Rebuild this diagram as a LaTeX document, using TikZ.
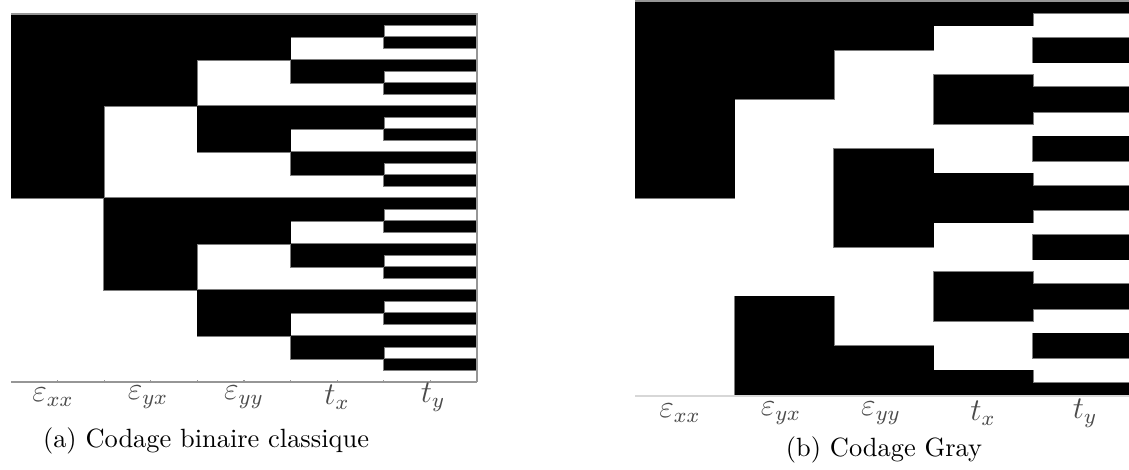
\documentclass[tikz,border=0pt]{standalone}
\usepackage{tikz}
\usetikzlibrary{positioning}
\definecolor{edgegray}{RGB}{125,125,125}
\definecolor{axisgray}{RGB}{150,150,150}
\definecolor{faintgray}{RGB}{215,215,215}
\definecolor{labelgray}{RGB}{75,75,75}

\begin{document}
\begin{tikzpicture}[x=0.3788pt, y=-0.3788pt,
		% Styles (edges go first, fills on top so black runs merge)
		bitedge/.style={draw=edgegray, line width=0.6pt},
		bitfill/.style={fill=black},
		frame/.style={draw=axisgray, line width=0.6pt},
		varlabel/.style={text=labelgray, font=\fontsize{11.5}{13}\selectfont, inner sep=0pt},
		caption/.style={font=\normalsize, inner sep=0pt}
	]
	\useasboundingbox (0,0) rectangle (1129,470);

	% (a) Classic binary code: column c holds runs of 2^(4-c) rows
	\begin{scope}
		\clip (11,14) rectangle (477,382);
		\foreach \pass in {edge,fill}
		\foreach \c in {0,...,4} {
			\pgfmathtruncatemacro{\len}{2^(4-\c)}
			\pgfmathtruncatemacro{\nrun}{16/\len-1}
			\foreach \k in {0,...,\nrun} {
				\pgfmathsetmacro{\ya}{14+2*\k*\len*11.5}
				\pgfmathsetmacro{\yb}{\ya+\len*11.5}
				\path[bit\pass] (11+\c*93.2,\ya) rectangle (11+\c*93.2+93.2,\yb);
			}
		}
	\end{scope}
	\draw[frame] (11,14) -- (477,14) -- (477,382);
	\draw[frame] (11,382) -- (477,382);
	\foreach \t in {1,...,9}
		\draw[frame, line width=0.4pt] (11+\t*46.6,382) -- ++(0,-2);

	% (b) Gray code: black runs start at (4k-1)*2^(4-c)
	\begin{scope}
		\clip (635,1) rectangle (1129,395);
		\foreach \pass in {edge,fill}
		\foreach \c in {0,...,4} {
			\pgfmathtruncatemacro{\len}{2^(4-\c)}
			\pgfmathtruncatemacro{\nrun}{8/\len}
			\foreach \k in {0,...,\nrun} {
				\pgfmathsetmacro{\ya}{1+(4*\k-1)*\len*12.3125}
				\pgfmathsetmacro{\yb}{\ya+2*\len*12.3125}
				\path[bit\pass] (635+\c*99.5,\ya) rectangle (635+\c*99.5+99.5,\yb);
			}
		}
	\end{scope}
	\draw[frame] (635,1) -- (1129,1);
	\draw[frame, draw=faintgray] (635,396) -- (1129,396);

	% Variable labels
	\node[varlabel] (exx_a) at (53,397) {$\varepsilon_{xx}$};
	\node[varlabel] (eyx_a) at (148,397) {$\varepsilon_{yx}$};
	\node[varlabel] (eyy_a) at (244,397) {$\varepsilon_{yy}$};
	\node[varlabel] (tx_a) at (337,397) {$t_x$};
	\node[varlabel] (ty_a) at (433,397) {$t_y$};

	\node[varlabel] (exx_b) at (680,413) {$\varepsilon_{xx}$};
	\node[varlabel] (eyx_b) at (781,413) {$\varepsilon_{yx}$};
	\node[varlabel] (eyy_b) at (881,413) {$\varepsilon_{yy}$};
	\node[varlabel] (tx_b) at (983,413) {$t_x$};
	\node[varlabel] (ty_b) at (1085,413) {$t_y$};

	% Captions
	\node[caption] (cap_a) at (206,441) {(a) Codage binaire classique};
	\node[caption] (cap_b) at (884,450) {(b) Codage Gray};

\end{tikzpicture}
\end{document}
